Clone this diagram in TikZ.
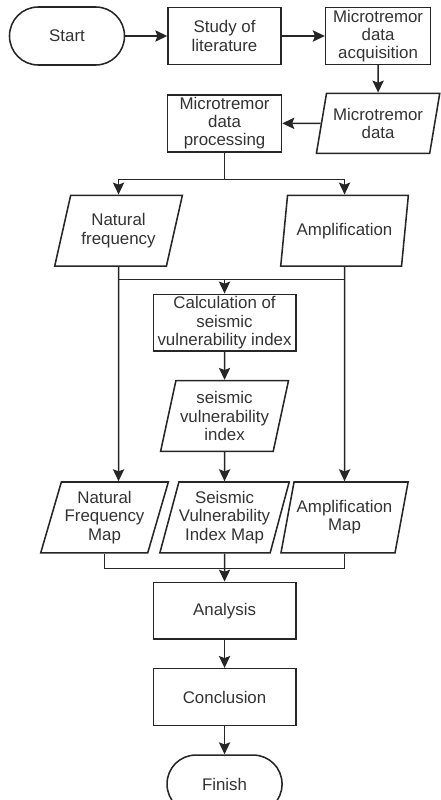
\documentclass[tikz,border=0pt]{standalone}
\usepackage{fontspec}
\setmainfont{Liberation Sans}
\usetikzlibrary{arrows.meta, positioning, shapes.geometric}
\definecolor{inkline}{HTML}{262626}
\definecolor{inktext}{HTML}{333333}
\newcommand{\flowfont}{\fontsize{12}{13}\selectfont}

\begin{document}
\begin{tikzpicture}[
  term/.style={draw=inkline, line width=1.1pt, rounded corners=0.72cm, minimum height=1.45cm, minimum width=2.875cm, align=center, font=\flowfont, text=inktext},
  proc/.style={draw=inkline, line width=1.1pt, minimum height=1.42cm, minimum width=2.85cm, align=center, font=\flowfont, text=inktext, inner sep=1pt},
  wproc/.style={proc, minimum width=3.56cm},
  io/.style={draw=inkline, line width=1.1pt, trapezium, trapezium left angle=70, trapezium right angle=110, trapezium stretches=true, minimum height=1.77cm, minimum width=3.2cm, align=center, font=\flowfont, text=inktext, inner sep=0pt},
  steep/.style={trapezium left angle=74, trapezium right angle=106},
  arr/.style={-{Stealth[length=8.5pt, width=8pt, inset=1.5pt]}, line width=1.1pt, draw=inkline},
  link/.style={line width=1.1pt, draw=inkline},
  node distance=0.7cm
]
\useasboundingbox (0,0) rectangle (11.025,-20);

\node[term] (start) at (1.675,-0.9) {Start};
\node[proc, right=1.05cm of start, minimum width=2.825cm] (study) {Study of\\literature};
\node[proc, right=1.075cm of study, minimum width=2.625cm] (acq) {Microtremor\\data\\acquisition};
\node[proc, below=0.725cm of study] (procdata) {Microtremor\\data\\processing};
\node[io, steep, minimum width=3.1cm, minimum height=1.5cm] (mdata) at (acq |- procdata) {Microtremor\\data};

\node[io, below=1.05cm of procdata, xshift=-2.65cm] (natfreq) {Natural\\frequency};
\node[io, below=1.05cm of procdata, xshift=3cm] (ampl) {Amplification};
\node[wproc, below=3.525cm of procdata] (calc) {Calculation of\\seismic\\vulnerability index};
\node[io, steep, below=of calc] (svi) {seismic\\vulnerability\\index};

\node[io, below=0.725cm of svi] (svimap) {Seismic\\Vulnerability\\Index Map};
\node[io, xshift=-3cm] (nfmap) at (svimap) {Natural\\Frequency\\Map};
\node[io, xshift=3cm] (amap) at (svimap) {Amplification\\Map};

\node[wproc, below=of svimap] (analysis) {Analysis};
\node[wproc, below=of analysis] (concl) {Conclusion};
\node[term, below=of concl] (finish) {Finish};

\coordinate[above=0.35cm of calc] (merge);
\coordinate[below=0.375cm of svimap] (gather);

\draw[arr] (start) -- (study);
\draw[arr] (study) -- (acq);
\draw[arr] (acq) -- (mdata);
\draw[arr] (mdata) -- (procdata);
\draw[arr] (procdata.south) -- ++(0,-0.675) -| (natfreq);
\draw[arr] (procdata.south) -- ++(0,-0.675) -| (ampl);

\draw[arr] (natfreq) -- (natfreq |- nfmap.north);
\draw[arr] (ampl) -- (amap);
\draw[link] (natfreq |- merge) -- (ampl |- merge);
\draw[arr] (merge) -- (calc);
\draw[arr] (calc) -- (svi);
\draw[arr] (svi) -- (svimap);

\draw[link] (nfmap) |- (gather) -| (amap);
\draw[arr] (svimap) -- (analysis);
\draw[arr] (analysis) -- (concl);
\draw[arr] (concl) -- (finish);
\end{tikzpicture}
\end{document}
